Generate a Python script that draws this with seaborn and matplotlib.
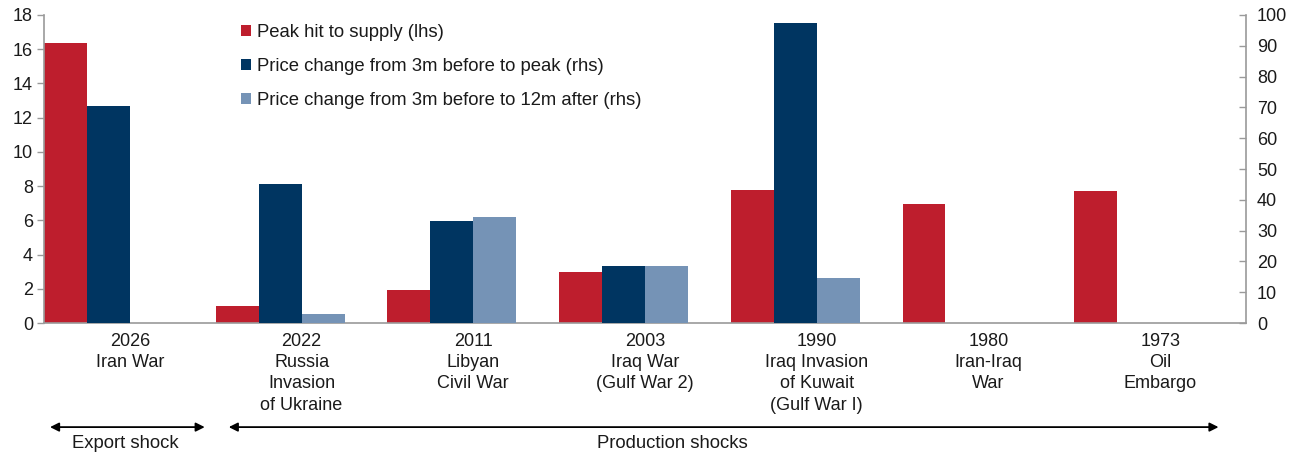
import numpy as np
import pandas as pd
import matplotlib
matplotlib.use("Agg")
import matplotlib.pyplot as plt
import seaborn as sns
from matplotlib.patches import Patch

# Oil supply shocks: peak supply loss (% of world supply, lhs) and oil price change (%, rhs)
years = ["2026", "2022", "2011", "2003", "1990", "1980", "1973"]
events = ["Iran War", "Russia\nInvasion\nof Ukraine", "Libyan\nCivil War",
          "Iraq War\n(Gulf War 2)", "Iraq Invasion\nof Kuwait\n(Gulf War I)",
          "Iran-Iraq\nWar", "Oil\nEmbargo"]
supply_hit = [16.35, 1.0, 1.95, 3.0, 7.75, 6.95, 7.7]
price_to_peak = [70.3, 45.1, 33.0, 18.6, 97.4, np.nan, np.nan]
price_to_12m = [np.nan, 2.9, 34.4, 18.6, 14.6, np.nan, np.nan]

series_names = ["Peak hit to supply (lhs)",
                "Price change from 3m before to peak (rhs)",
                "Price change from 3m before to 12m after (rhs)",
                "spacer"]
colors = ["#BE1E2D", "#003561", "#7593B6", "#FFFFFF"]
palette = dict(zip(series_names, colors))

labels = [f"{y}\n{e}" for y, e in zip(years, events)]

lhs = pd.DataFrame({"event": labels, "series": series_names[0], "value": supply_hit})
rhs = pd.concat([
    pd.DataFrame({"event": labels, "series": series_names[1], "value": price_to_peak}),
    pd.DataFrame({"event": labels, "series": series_names[2], "value": price_to_12m}),
]).dropna()

sns.set_theme(style="white")
plt.rcParams["font.family"] = ["Liberation Sans", "DejaVu Sans"]
plt.rcParams["text.color"] = "#1a1a1a"

fig = plt.figure(figsize=(13.04, 4.55), dpi=100)
ax = fig.add_axes([44 / 1304, 132 / 455, 1202 / 1304, 308 / 455])
ax2 = ax.twinx()

bar_kw = dict(x="event", y="value", hue="series", order=labels,
              hue_order=series_names, palette=palette, width=1.0, gap=0,
              dodge=True, saturation=1, errorbar=None, legend=False, linewidth=0)
sns.barplot(data=lhs, ax=ax, **bar_kw)
sns.barplot(data=rhs, ax=ax2, **bar_kw)

grey = "#9a9a9a"
fs = 13

ax.set_ylim(0, 18)
ax.set_yticks(np.arange(0, 19, 2))
ax2.set_ylim(0, 100)
ax2.set_yticks(np.arange(0, 101, 10))
ax.set_xlim(-0.5, len(labels) - 0.5)

ax.set_xticks(range(len(labels)))
ax.set_xticklabels(labels, fontsize=fs, linespacing=1.33)
ax.set_xticks(np.arange(-0.5, len(labels)), minor=True)
ax.tick_params(axis="x", which="major", length=0, pad=7, colors="#1a1a1a")
ax.tick_params(axis="x", which="minor", length=5, width=1, color=grey, direction="out")
ax.tick_params(axis="y", length=5, width=1, color=grey, direction="out",
               labelsize=fs, labelcolor="#1a1a1a", pad=3, left=True)
ax2.tick_params(axis="y", length=5, width=1, color=grey, direction="in",
                labelsize=fs, labelcolor="#1a1a1a", pad=8, right=True)

for a in (ax, ax2):
    a.set_xlabel("")
    a.set_ylabel("")
    for side in ("top", "left", "right", "bottom"):
        a.spines[side].set_visible(False)
ax.spines["left"].set_visible(True)
ax.spines["bottom"].set_visible(True)
ax2.spines["right"].set_visible(True)
for s in (ax.spines["left"], ax.spines["bottom"], ax2.spines["right"]):
    s.set_color(grey)
    s.set_linewidth(1.2)

handles = [Patch(facecolor=c, edgecolor="none", label=n)
           for n, c in zip(series_names[:3], colors[:3])]
ax2.legend(handles=handles, loc="upper left", frameon=False,
           bbox_to_anchor=(241 / 1304, 1 - 24 / 455), bbox_transform=fig.transFigure,
           fontsize=13.3, handlelength=0.55, handleheight=0.55, handletextpad=0.3,
           labelspacing=0.92, borderpad=0, borderaxespad=0)

# Shock-type brackets beneath the categories
tr = ax.get_xaxis_transform()
arrow_kw = dict(arrowstyle="<|-|>", color="black", lw=1.3, mutation_scale=13,
                shrinkA=0, shrinkB=0)
ax.annotate("", xy=(-0.465, -0.338), xytext=(0.436, -0.338), xycoords=tr,
            textcoords=tr, arrowprops=arrow_kw, annotation_clip=False)
ax.annotate("", xy=(0.576, -0.338), xytext=(6.34, -0.338), xycoords=tr,
            textcoords=tr, arrowprops=arrow_kw, annotation_clip=False)
ax.text(-0.029, -0.39, "Export shock", transform=tr, ha="center", va="center",
        fontsize=13.3, clip_on=False)
ax.text(3.157, -0.39, "Production shocks", transform=tr, ha="center", va="center",
        fontsize=13.3, clip_on=False)

fig.savefig("out.png", dpi=100, facecolor="white")
